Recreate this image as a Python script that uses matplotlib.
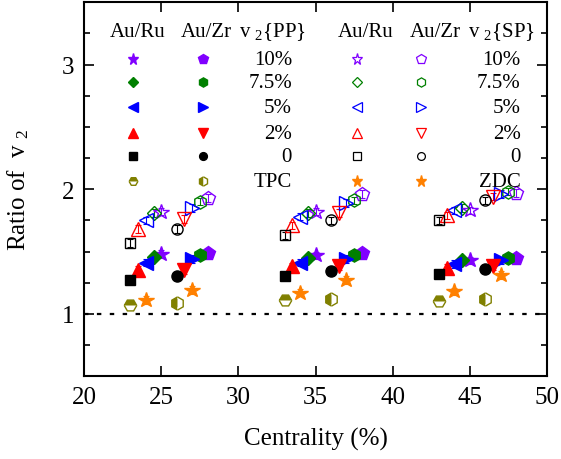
import numpy as np
import matplotlib
matplotlib.use('Agg')
import matplotlib.pyplot as plt

plt.rcParams['font.family'] = 'Liberation Serif'
plt.rcParams['mathtext.fontset'] = 'custom'
plt.rcParams['mathtext.rm'] = 'Liberation Serif'
plt.rcParams['mathtext.default'] = 'regular'

# centrality bins and the ratio values
centrality = np.array([25, 35, 45])
labels = ['10%', '7.5%', '5%', '2%', '0']

pp_ru = {'10%': [1.48, 1.47, 1.43], '7.5%': [1.46, 1.45, 1.43], '5%': [1.41, 1.41, 1.40],
         '2%': [1.35, 1.38, 1.37], '0': [1.27, 1.30, 1.32]}
pp_zr = {'10%': [1.49, 1.49, 1.45], '7.5%': [1.47, 1.47, 1.45], '5%': [1.44, 1.44, 1.43],
         '2%': [1.35, 1.38, 1.38], '0': [1.30, 1.34, 1.36]}
sp_ru = {'10%': [1.82, 1.82, 1.83], '7.5%': [1.81, 1.81, 1.85], '5%': [1.75, 1.78, 1.83],
         '2%': [1.68, 1.71, 1.79], '0': [1.57, 1.63, 1.75]}
sp_zr = {'10%': [1.93, 1.96, 1.97], '7.5%': [1.90, 1.91, 1.98], '5%': [1.85, 1.89, 1.96],
         '2%': [1.76, 1.81, 1.94], '0': [1.68, 1.75, 1.91]}
tpc_ru = [1.07, 1.11, 1.10]
tpc_zr = [1.09, 1.12, 1.12]
zdc_ru = [1.11, 1.17, 1.18]
zdc_zr = [1.19, 1.27, 1.31]
err = 0.03

# styles
colors = {'10%': '#8000FF', '7.5%': '#008000', '5%': '#0000FF', '2%': '#FF0000', '0': 'black'}
mk_ru = {'10%': '*', '7.5%': 'D', '5%': '<', '2%': '^', '0': 's'}
mk_zr = {'10%': 'p', '7.5%': 'h', '5%': '>', '2%': 'v', '0': 'o'}
ms = {'*': 11.5, 'D': 7, '<': 9.5, '>': 9.5, '^': 9.5, 'v': 9.5, 's': 7.5, 'o': 8, 'p': 10, 'h': 9.5, 'H': 9}
shift_ru = {'10%': 0, '7.5%': -0.5, '5%': -1, '2%': -1.5, '0': -2}
shift_zr = {'10%': 3, '7.5%': 2.5, '5%': 2, '2%': 1.5, '0': 1}
olive = '#808000'
orange = '#FF8000'

fig = plt.figure(figsize=(5.61, 4.60), dpi=100)
ax = fig.add_axes([0.150, 0.180, 0.825, 0.813])

ax.axhline(1, color='black', lw=1.6, ls=(0, (2, 3.8)), zorder=1)


def draw(x, y, m, c, filled, **kw):
    ax.errorbar(x, y, yerr=err, fmt='none', ecolor=c, elinewidth=0.8, capsize=2.5, capthick=0.8, zorder=2)
    if filled:
        ax.plot(x, y, ls='none', marker=m, ms=ms[m], color=c, mec=c, zorder=3, **kw)
    else:
        ax.plot(x, y, ls='none', marker=m, ms=ms[m], mfc='none', mec=c, mew=1.0, zorder=3, **kw)


for k in labels:
    draw(centrality + shift_ru[k], pp_ru[k], mk_ru[k], colors[k], True)
    draw(centrality + shift_zr[k], pp_zr[k], mk_zr[k], colors[k], True)
    draw(centrality + shift_ru[k], sp_ru[k], mk_ru[k], colors[k], False)
    draw(centrality + shift_zr[k], sp_zr[k], mk_zr[k], colors[k], False)

draw(centrality - 2, tpc_ru, 'H', olive, True, fillstyle='top', mfcalt='white')
draw(centrality + 1, tpc_zr, 'h', olive, True, fillstyle='left', mfcalt='white')
draw(centrality - 1, zdc_ru, '*', orange, True)
draw(centrality + 2, zdc_zr, '*', orange, True)

# legend tables
tr = ax.transAxes
rows_y = [0.848, 0.786, 0.719, 0.650, 0.588, 0.521]
fs = 15
lscale = 0.7


def legend_block(x_ru, x_zr, x_txt, hx, head, filled, last):
    ax.text(hx[0], 0.923, 'Au/Ru', transform=tr, ha='center', va='center', fontsize=fs)
    ax.text(hx[1], 0.923, 'Au/Zr', transform=tr, ha='center', va='center', fontsize=fs)
    ax.text(hx[2], 0.923, head, transform=tr, ha='center', va='center', fontsize=fs)
    for k, yy in zip(labels, rows_y):
        for xx, m in ((x_ru, mk_ru[k]), (x_zr, mk_zr[k])):
            if filled:
                ax.plot(xx, yy, marker=m, ms=ms[m] * lscale, color=colors[k], transform=tr, clip_on=False)
            else:
                ax.plot(xx, yy, marker=m, ms=ms[m] * lscale, mfc='none', mec=colors[k], mew=0.9,
                        transform=tr, clip_on=False)
        ax.text(x_txt, yy, k, transform=tr, ha='right', va='center', fontsize=fs)
    yy = rows_y[-1]
    if last == 'TPC':
        ax.plot(x_ru, yy, marker='H', ms=ms['H'] * lscale, color=olive, fillstyle='top', mfcalt='white', transform=tr)
        ax.plot(x_zr, yy, marker='h', ms=ms['h'] * lscale, color=olive, fillstyle='left', mfcalt='white', transform=tr)
    else:
        ax.plot(x_ru, yy, marker='*', ms=ms['*'] * lscale, color=orange, transform=tr)
        ax.plot(x_zr, yy, marker='*', ms=ms['*'] * lscale, color=orange, transform=tr)
    ax.text(x_txt, yy, last, transform=tr, ha='right', va='center', fontsize=fs)


legend_block(0.106, 0.257, 0.449, (0.116, 0.265, 0.406), 'v $_2${PP}', True, 'TPC')
legend_block(0.589, 0.727, 0.943, (0.609, 0.758, 0.902), 'v $_2${SP}', False, 'ZDC')

ax.set_xlim(20, 50)
ax.set_ylim(0.5, 3.5)
ax.set_xticks([20, 25, 30, 35, 40, 45, 50])
ax.set_yticks([1, 2, 3])
ax.set_yticks(np.arange(0.75, 3.5, 0.25), minor=True)
ax.tick_params(direction='in', which='both', top=True, right=True, labelsize=18, width=1.2)
ax.tick_params(which='major', length=7, pad=7)
ax.tick_params(which='minor', length=4)
for s in ax.spines.values():
    s.set_linewidth(1.5)

ax.set_xlabel('Centrality (%)', fontsize=18, labelpad=14)
ax.set_ylabel('Ratio of  v $_2$', fontsize=18, labelpad=22)

plt.savefig('out.png', dpi=100)
